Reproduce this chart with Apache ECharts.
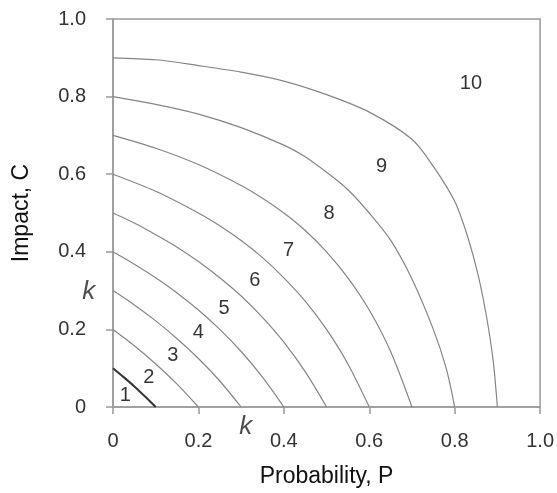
<!DOCTYPE html>
<html>
<head>
<meta charset="utf-8">
<script src="https://cdn.jsdelivr.net/npm/echarts@6/dist/echarts.min.js"></script>
<style>
html,body{margin:0;padding:0;background:#fff;}
#chart{width:557px;height:493px;}
</style>
</head>
<body>
<div id="chart"></div>
<script>
// Risk level curves (Probability P, Impact C)
var curve1 = [[0,0.1],[0.025,0.077],[0.05,0.053],[0.075,0.027],[0.1,0]];
var curve2 = [[0,0.2],[0.05,0.158],[0.1,0.111],[0.15,0.059],[0.2,0]];
var curve3 = [[0,0.3],[0.05,0.263],[0.1,0.222],[0.15,0.176],[0.2,0.125],[0.25,0.067],[0.3,0]];
var curve4 = [[0,0.4],[0.05,0.368],[0.1,0.333],[0.15,0.294],[0.2,0.25],[0.25,0.2],[0.3,0.143],[0.35,0.077],[0.4,0]];
var curve5 = [[0,0.5],[0.05,0.474],[0.1,0.444],[0.15,0.412],[0.2,0.375],[0.25,0.333],[0.3,0.286],[0.35,0.231],[0.4,0.167],[0.45,0.091],[0.5,0]];
var curve6 = [[0,0.6],[0.1,0.556],[0.2,0.5],[0.25,0.467],[0.3,0.429],[0.35,0.385],[0.4,0.333],[0.45,0.273],[0.5,0.2],[0.55,0.111],[0.6,0]];
var curve7 = [[0,0.7],[0.1,0.667],[0.2,0.625],[0.3,0.571],[0.35,0.538],[0.4,0.5],[0.45,0.455],[0.5,0.4],[0.55,0.333],[0.6,0.25],[0.65,0.143],[0.7,0]];
var curve8 = [[0,0.8],[0.1,0.78],[0.2,0.755],[0.3,0.72],[0.4,0.675],[0.45,0.645],[0.5,0.605],[0.55,0.56],[0.6,0.5],[0.65,0.43],[0.7,0.33],[0.75,0.2],[0.78,0.1],[0.8,0]];
var curve9 = [[0,0.9],[0.1,0.895],[0.2,0.88],[0.3,0.863],[0.4,0.84],[0.5,0.805],[0.6,0.76],[0.7,0.69],[0.75,0.62],[0.8,0.53],[0.83,0.44],[0.855,0.34],[0.875,0.23],[0.89,0.12],[0.9,0]];

// Region number labels (P, C, text)
var regionLabels = [
  [0.029,0.030,'1'],[0.084,0.077,'2'],[0.140,0.133,'3'],[0.200,0.193,'4'],
  [0.260,0.254,'5'],[0.332,0.327,'6'],[0.411,0.404,'7'],[0.506,0.499,'8'],
  [0.629,0.621,'9'],[0.838,0.833,'10']
];
// "k" marks at the intercepts of the k curve
var kLabels = [[-0.057,0.296,'k'],[0.311,-0.052,'k']];

var xTicks = [0,0.2,0.4,0.6,0.8,1.0];
var yTicks = [0,0.2,0.4,0.6,0.8,1.0];

var curves = [curve1,curve2,curve3,curve4,curve5,curve6,curve7,curve8,curve9];
var FONT = 'Liberation Sans, Arial, sans-serif';

var series = curves.map(function(c, i){
  return {
    type:'line', data:c, smooth:0.3, symbol:'none', silent:true,
    lineStyle:{color: i===0 ? '#333' : '#858585', width: i===0 ? 2 : 1.2}
  };
});
series.push({
  type:'scatter', data:regionLabels, symbolSize:0, clip:false, silent:true,
  label:{show:true, position:'inside', formatter:function(p){return p.value[2];},
    color:'#000', fontSize:20, fontFamily:FONT}
});
series.push({
  type:'scatter', data:kLabels, symbolSize:0, clip:false, silent:true,
  label:{show:true, position:'inside', formatter:function(p){return p.value[2];},
    color:'#222', fontSize:26, fontStyle:'italic', fontFamily:FONT}
});

function fmt(v){ return v===0 ? '0' : v.toFixed(1); }

var chart = echarts.init(document.getElementById('chart'), null, {renderer:'canvas'});
chart.setOption({
  animation:false,
  backgroundColor:'#fff',
  grid:{left:113, right:13, top:19, bottom:86, show:true, borderColor:'#9a9a9a', borderWidth:1.5, backgroundColor:'transparent'},
  xAxis:{
    type:'value', min:0, max:1, interval:0.2,
    name:'Probability, P', nameLocation:'middle', nameGap:58,
    nameTextStyle:{color:'#111', fontSize:23, fontFamily:FONT},
    axisLine:{show:true, lineStyle:{color:'#9a9a9a', width:1.5}},
    axisTick:{show:true, length:7, lineStyle:{color:'#9a9a9a', width:1.5}},
    axisLabel:{color:'#333', fontSize:20, fontFamily:FONT, margin:24,
      formatter:function(v){ return xTicks.indexOf(v)>=0 || true ? fmt(v) : ''; }},
    splitLine:{show:false}
  },
  yAxis:{
    type:'value', min:0, max:1, interval:0.2,
    name:'Impact, C', nameLocation:'middle', nameGap:80,
    nameTextStyle:{color:'#111', fontSize:23, fontFamily:FONT},
    axisLine:{show:true, lineStyle:{color:'#9a9a9a', width:1.5}},
    axisTick:{show:true, length:7, lineStyle:{color:'#9a9a9a', width:1.5}},
    axisLabel:{color:'#333', fontSize:20, fontFamily:FONT, margin:27,
      formatter:function(v){ return yTicks.indexOf(v)>=0 || true ? fmt(v) : ''; }},
    splitLine:{show:false}
  },
  series:series
});
</script>
</body>
</html>
